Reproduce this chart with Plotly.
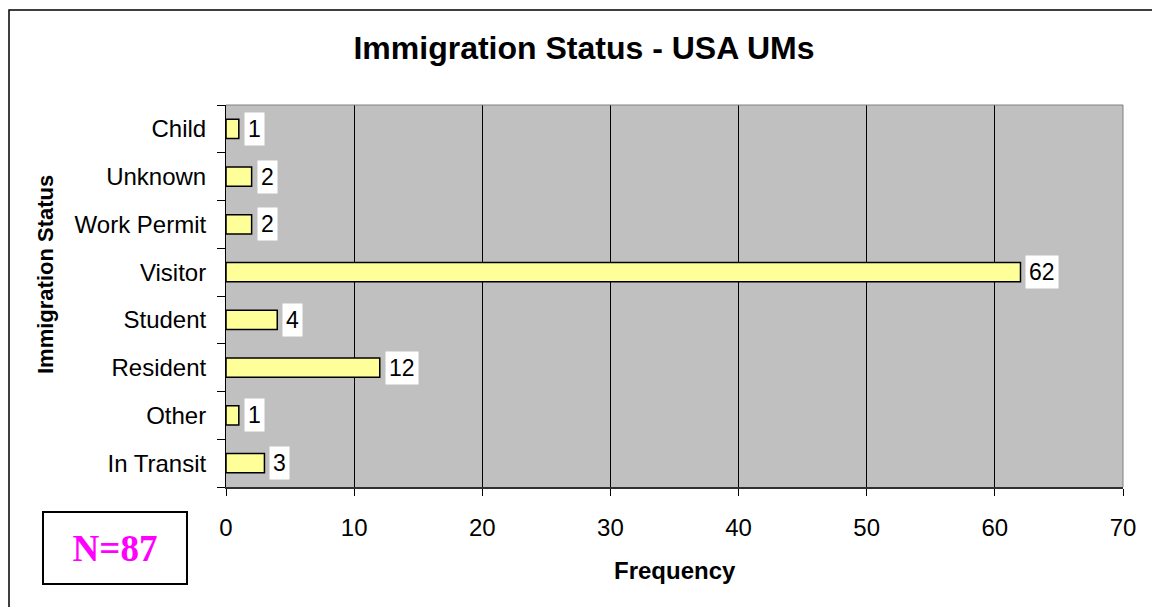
import plotly.graph_objects as go

# categories listed bottom to top, as they appear on the chart
statuses = ["In Transit", "Other", "Resident", "Student", "Visitor",
            "Work Permit", "Unknown", "Child"]
counts = [3, 1, 12, 4, 62, 2, 2, 1]
x_ticks = [0, 10, 20, 30, 40, 50, 60, 70]

W, H = 1160, 607
OFF = 8  # page body margin pushes the figure 8px right and down
# plot area in screen pixels: x 226..1123, y 105..487
L, T = 226 - OFF, 105 - OFF
pw, ph = 897, 382
R, B = W - L - pw, H - T - ph


def sx(px):
    """screen x pixel -> paper x"""
    return (px - OFF - L) / pw


def sy(py):
    """screen y pixel -> paper y"""
    return (T + ph - (py - OFF)) / ph


fig = go.Figure()
fig.add_trace(go.Bar(
    x=counts, y=statuses, orientation="h", width=0.4,
    marker=dict(color="#FFFF99", line=dict(color="black", width=1.5)),
    hoverinfo="x+y",
))

# value labels on white boxes, right of each bar
for s, c in zip(statuses, counts):
    fig.add_annotation(
        x=c, y=s, xref="x", yref="y", text=str(c), showarrow=False,
        xanchor="left", xshift=5, bgcolor="white", borderpad=3,
        font=dict(family="Liberation Sans, Arial", size=23, color="black"),
    )

font = dict(family="Liberation Sans, Arial", color="black")

fig.update_layout(
    width=W, height=H,
    margin=dict(l=L, r=R, t=T, b=B),
    paper_bgcolor="white", plot_bgcolor="#C0C0C0",
    showlegend=False,
    font=dict(family="Liberation Sans, Arial", size=24, color="black"),
    title=dict(text="<b>Immigration Status - USA UMs</b>", x=sx(584),
               xref="paper", xanchor="center", y=1 - (48 - OFF) / H,
               yanchor="middle",
               font=dict(family="Liberation Sans, Arial", size=32, color="black")),
    xaxis=dict(
        range=[0, 70], tickvals=x_ticks, showgrid=True, gridcolor="black",
        gridwidth=1, zeroline=False, showline=True, linecolor="#303030",
        linewidth=1.5, ticks="outside", ticklen=7, tickcolor="black",
        ticklabelstandoff=11, tickfont=dict(size=24),
    ),
    yaxis=dict(
        type="category", categoryorder="array", categoryarray=statuses,
        range=[-0.5, 7.5], tickson="boundaries", ticks="outside", ticklen=8,
        tickcolor="black", showgrid=False, showline=True, linecolor="black",
        linewidth=1, ticklabelstandoff=14, tickfont=dict(size=24),
    ),
)

# axis titles
fig.add_annotation(text="<b>Frequency</b>", xref="paper", yref="paper",
                   x=sx(675), y=sy(570), showarrow=False,
                   xanchor="center", yanchor="middle",
                   font=dict(font, size=24))
fig.add_annotation(text="<b>Immigration Status</b>", xref="paper", yref="paper",
                   x=sx(45), y=sy(275), showarrow=False,
                   textangle=-90, xanchor="center", yanchor="middle",
                   font=dict(font, size=22))

# N=87 box
fig.add_annotation(text="<b>N=87</b>", xref="paper", yref="paper",
                   x=sx(114.5), y=sy(547.5), showarrow=False,
                   xanchor="center", yanchor="middle", width=140, height=68,
                   bgcolor="white", bordercolor="black", borderwidth=2,
                   font=dict(family="Liberation Serif, Times New Roman", size=37,
                             color="#FF00FF"))

# thin grey border on top/right of the plot area
fig.add_shape(type="line", xref="paper", yref="paper", x0=0, x1=1, y0=1, y1=1,
              line=dict(color="#808080", width=1))
fig.add_shape(type="line", xref="paper", yref="paper", x0=1, x1=1, y0=0, y1=1,
              line=dict(color="#808080", width=1))

# outer chart frame (runs off the right and bottom of the picture)
fig.add_shape(type="rect", xref="paper", yref="paper",
              x0=sx(OFF + 1), x1=sx(W + 40),
              y0=sy(H + 40), y1=sy(10),
              line=dict(color="black", width=1.5), layer="below")

fig.write_html("out.html")
